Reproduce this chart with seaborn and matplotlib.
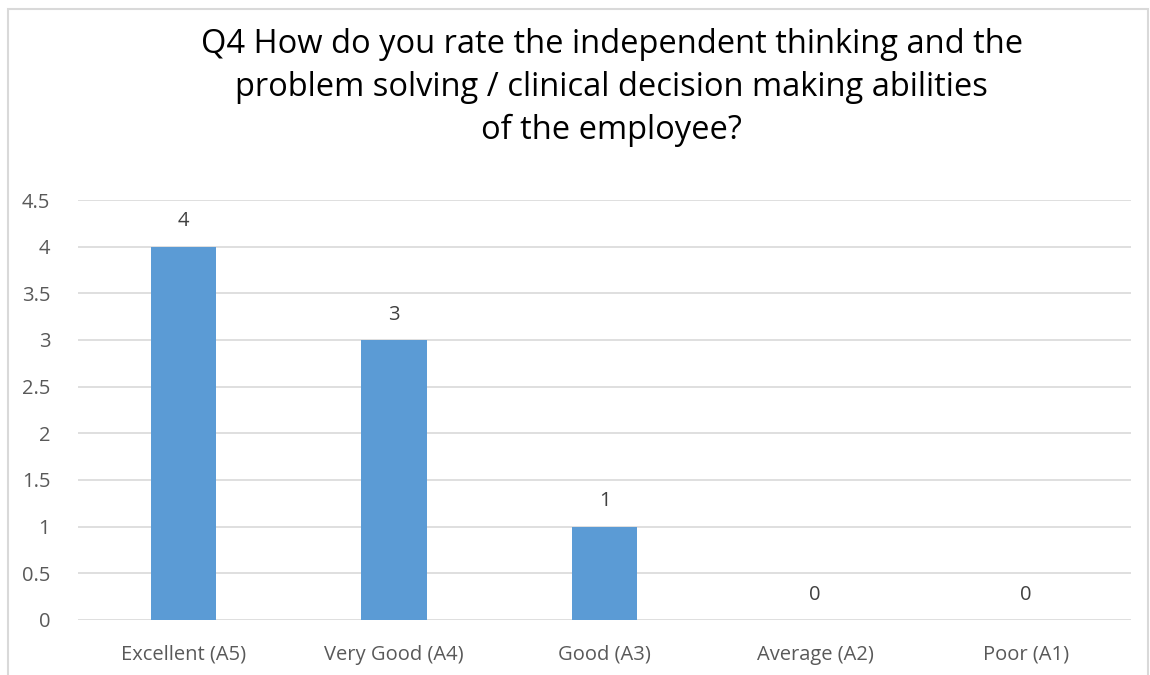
import matplotlib
matplotlib.use("Agg")
import matplotlib.pyplot as plt
import seaborn as sns
import pandas as pd
from matplotlib.patches import Rectangle

categories = ["Excellent (A5)", "Very Good (A4)", "Good (A3)", "Average (A2)", "Poor (A1)"]
values = [4, 3, 1, 0, 0]
yticks = [0, 0.5, 1, 1.5, 2, 2.5, 3, 3.5, 4, 4.5]
ytick_labels = ["0", "0.5", "1", "1.5", "2", "2.5", "3", "3.5", "4", "4.5"]
title = ("Q4 How do you rate the independent thinking and the\n"
         "problem solving / clinical decision making abilities\n"
         "of the employee?")

sns.set_theme(style="white")
plt.rcParams['font.family'] = ['Open Sans', 'DejaVu Sans']

df = pd.DataFrame({"cat": categories, "val": values})

fig = plt.figure(figsize=(11.5, 6.75), dpi=100)
ax = fig.add_axes([0.0678, 0.0815, 0.9157, 0.6222])

sns.barplot(data=df, x="cat", y="val", color="#5B9BD5", width=0.31,
            saturation=1, linewidth=0, ax=ax, zorder=3)

ax.set_ylim(0, 4.5)
ax.set_xlim(-0.5, len(categories) - 0.5)
ax.set_yticks(yticks)
ax.set_yticklabels(ytick_labels)
ax.yaxis.grid(True, color="#d9d9d9", linewidth=1.2, zorder=0)
ax.set_axisbelow(True)
for s in ax.spines.values():
    s.set_visible(False)
ax.tick_params(axis="both", length=0, colors="#595959", labelsize=14.5)
ax.tick_params(axis="y", pad=20)
ax.tick_params(axis="x", pad=18)
ax.set_xlabel("")
ax.set_ylabel("")

for i, v in enumerate(values):
    ax.annotate(str(v), (i, v), xytext=(0, 11), textcoords="offset points",
                ha="center", va="bottom", fontsize=14.5, color="#404040")

fig.text(0.532, 1 - 28 / 675, title, ha="center", va="top", fontsize=23.5,
         color="#000000", linespacing=1.4)

fig.patches.append(Rectangle((8 / 1150, -0.05), 1140 / 1150, 1 - 9 / 675 + 0.05,
                             transform=fig.transFigure, fill=False,
                             edgecolor="#d9d9d9", linewidth=1.5))

fig.savefig("out.png", dpi=100)
